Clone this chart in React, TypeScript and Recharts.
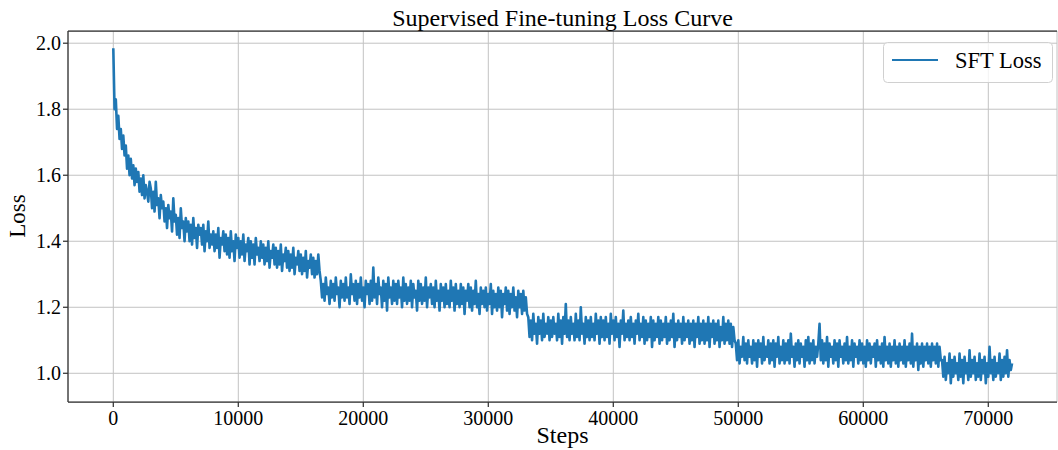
import { CartesianGrid, Legend, Line, LineChart, ReferenceLine, XAxis, YAxis } from "recharts";

// logged every 100 steps, one list per epoch
const STEP = 100;
const EPOCH_STARTS = [0, 16600, 33200, 49800, 66300];

const EPOCH1 = [
  1.985, 1.8, 1.83, 1.74, 1.78, 1.71, 1.74, 1.68, 1.72, 1.66,
  1.69, 1.62, 1.66, 1.6, 1.65, 1.59, 1.63, 1.57, 1.62, 1.58,
  1.61, 1.55, 1.59, 1.54, 1.6, 1.53, 1.57, 1.55, 1.52, 1.58,
  1.56, 1.5, 1.55, 1.49, 1.58, 1.51, 1.53, 1.47, 1.54, 1.5,
  1.52, 1.46, 1.5, 1.44, 1.51, 1.47, 1.49, 1.43, 1.53, 1.46,
  1.48, 1.42, 1.47, 1.41, 1.5, 1.44, 1.46, 1.4, 1.47, 1.43,
  1.46, 1.4, 1.45, 1.39, 1.47, 1.41, 1.44, 1.38, 1.45, 1.42,
  1.44, 1.39, 1.45, 1.37, 1.43, 1.4, 1.46, 1.38, 1.42, 1.39,
  1.43, 1.37, 1.42, 1.38, 1.44, 1.35, 1.41, 1.39, 1.43, 1.37,
  1.42, 1.36, 1.41, 1.35, 1.43, 1.37, 1.4, 1.34, 1.42, 1.38,
  1.41, 1.35, 1.4, 1.36, 1.42, 1.34, 1.39, 1.37, 1.41, 1.33,
  1.4, 1.35, 1.39, 1.33, 1.41, 1.36, 1.38, 1.34, 1.4, 1.35,
  1.39, 1.33, 1.38, 1.34, 1.4, 1.32, 1.37, 1.35, 1.39, 1.33,
  1.38, 1.32, 1.37, 1.33, 1.39, 1.31, 1.36, 1.34, 1.38, 1.32,
  1.37, 1.31, 1.36, 1.32, 1.38, 1.3, 1.35, 1.33, 1.37, 1.31,
  1.36, 1.3, 1.35, 1.31, 1.37, 1.29, 1.34, 1.32, 1.36, 1.3,
  1.35, 1.29, 1.34, 1.3, 1.36, 1.31,
];

const EPOCH2 = [
  1.28, 1.23, 1.27, 1.22, 1.29, 1.24, 1.26, 1.21, 1.28, 1.23,
  1.27, 1.22, 1.29, 1.24, 1.26, 1.2, 1.28, 1.23, 1.27, 1.22,
  1.29, 1.23, 1.26, 1.21, 1.3, 1.24, 1.27, 1.22, 1.28, 1.21,
  1.27, 1.23, 1.29, 1.22, 1.26, 1.2, 1.28, 1.24, 1.27, 1.21,
  1.28, 1.22, 1.32, 1.23, 1.27, 1.21, 1.29, 1.24, 1.26, 1.2,
  1.28, 1.22, 1.27, 1.19, 1.29, 1.23, 1.26, 1.21, 1.28, 1.22,
  1.27, 1.21, 1.28, 1.23, 1.26, 1.2, 1.29, 1.22, 1.27, 1.21,
  1.26, 1.22, 1.28, 1.2, 1.27, 1.23, 1.25, 1.19, 1.28, 1.22,
  1.27, 1.21, 1.26, 1.22, 1.29, 1.2, 1.26, 1.23, 1.27, 1.21,
  1.26, 1.2, 1.28, 1.22, 1.25, 1.19, 1.27, 1.22, 1.26, 1.2,
  1.27, 1.21, 1.25, 1.2, 1.28, 1.22, 1.26, 1.19, 1.27, 1.21,
  1.25, 1.2, 1.27, 1.21, 1.26, 1.18, 1.25, 1.22, 1.27, 1.2,
  1.26, 1.19, 1.25, 1.21, 1.28, 1.2, 1.24, 1.18, 1.26, 1.21,
  1.25, 1.2, 1.26, 1.19, 1.24, 1.21, 1.27, 1.18, 1.25, 1.2,
  1.24, 1.19, 1.26, 1.2, 1.25, 1.17, 1.24, 1.21, 1.26, 1.19,
  1.25, 1.18, 1.24, 1.2, 1.26, 1.19, 1.23, 1.17, 1.25, 1.2,
  1.24, 1.18, 1.25, 1.19, 1.23, 1.18,
];

const EPOCH3 = [
  1.17, 1.11, 1.16, 1.1, 1.18, 1.12, 1.15, 1.09, 1.17, 1.12,
  1.16, 1.1, 1.18, 1.11, 1.15, 1.12, 1.17, 1.1, 1.16, 1.11,
  1.17, 1.12, 1.15, 1.1, 1.18, 1.11, 1.16, 1.09, 1.17, 1.12,
  1.21, 1.11, 1.16, 1.1, 1.17, 1.12, 1.15, 1.1, 1.18, 1.11,
  1.16, 1.1, 1.2, 1.12, 1.15, 1.09, 1.17, 1.11, 1.16, 1.1,
  1.17, 1.11, 1.15, 1.1, 1.18, 1.12, 1.16, 1.09, 1.17, 1.11,
  1.16, 1.1, 1.17, 1.11, 1.15, 1.09, 1.18, 1.12, 1.16, 1.1,
  1.17, 1.11, 1.15, 1.08, 1.16, 1.12, 1.19, 1.1, 1.15, 1.11,
  1.16, 1.1, 1.17, 1.11, 1.15, 1.09, 1.16, 1.12, 1.18, 1.1,
  1.15, 1.11, 1.17, 1.09, 1.16, 1.1, 1.15, 1.11, 1.17, 1.08,
  1.16, 1.1, 1.15, 1.11, 1.17, 1.09, 1.16, 1.1, 1.15, 1.11,
  1.17, 1.09, 1.15, 1.1, 1.16, 1.11, 1.18, 1.08, 1.15, 1.1,
  1.16, 1.11, 1.15, 1.09, 1.17, 1.1, 1.15, 1.11, 1.16, 1.09,
  1.15, 1.1, 1.16, 1.08, 1.15, 1.11, 1.17, 1.09, 1.15, 1.1,
  1.16, 1.09, 1.15, 1.1, 1.17, 1.08, 1.15, 1.11, 1.16, 1.09,
  1.15, 1.1, 1.16, 1.08, 1.14, 1.1, 1.17, 1.09, 1.15, 1.1,
  1.16, 1.09, 1.15, 1.08, 1.14, 1.1,
];

const EPOCH4 = [
  1.09, 1.04, 1.1, 1.03, 1.08, 1.05, 1.11, 1.04, 1.09, 1.03,
  1.1, 1.05, 1.08, 1.03, 1.1, 1.04, 1.09, 1.02, 1.1, 1.05,
  1.09, 1.03, 1.11, 1.04, 1.08, 1.05, 1.1, 1.03, 1.09, 1.04,
  1.1, 1.02, 1.09, 1.05, 1.11, 1.03, 1.08, 1.04, 1.1, 1.03,
  1.09, 1.04, 1.1, 1.03, 1.12, 1.05, 1.08, 1.02, 1.09, 1.04,
  1.1, 1.03, 1.09, 1.05, 1.08, 1.02, 1.1, 1.04, 1.11, 1.03,
  1.09, 1.04, 1.1, 1.03, 1.08, 1.05, 1.09, 1.15, 1.04, 1.1,
  1.03, 1.09, 1.04, 1.11, 1.02, 1.09, 1.05, 1.08, 1.03, 1.1,
  1.04, 1.09, 1.02, 1.1, 1.05, 1.08, 1.03, 1.09, 1.04, 1.11,
  1.03, 1.08, 1.04, 1.1, 1.02, 1.09, 1.05, 1.08, 1.03, 1.1,
  1.04, 1.09, 1.03, 1.08, 1.02, 1.1, 1.04, 1.09, 1.03, 1.08,
  1.05, 1.09, 1.02, 1.1, 1.04, 1.08, 1.03, 1.09, 1.02, 1.11,
  1.04, 1.08, 1.03, 1.09, 1.02, 1.08, 1.04, 1.1, 1.03, 1.08,
  1.02, 1.09, 1.04, 1.08, 1.03, 1.1, 1.02, 1.08, 1.04, 1.09,
  1.03, 1.12, 1.02, 1.08, 1.04, 1.09, 1.01, 1.08, 1.03, 1.09,
  1.02, 1.08, 1.04, 1.09, 1.03, 1.08, 1.02, 1.09, 1.04, 1.08,
  1.03, 1.09, 1.02, 1.08, 1.04,
];

const EPOCH5 = [
  1.04, 0.99, 1.05, 0.98, 1.03, 1.0, 1.06, 0.97, 1.04, 0.99,
  1.05, 1.0, 1.03, 0.98, 1.06, 0.99, 1.04, 0.97, 1.05, 1.0,
  1.03, 0.98, 1.07, 0.99, 1.04, 1.0, 1.05, 0.98, 1.03, 0.99,
  1.06, 0.98, 1.04, 1.0, 1.05, 0.97, 1.03, 0.99, 1.08, 1.0,
  1.04, 0.98, 1.05, 0.99, 1.03, 1.0, 1.06, 0.98, 1.04, 0.99,
  1.05, 1.0, 1.07, 0.99, 1.04, 1.01, 1.03,
];

const EPOCHS = [EPOCH1, EPOCH2, EPOCH3, EPOCH4, EPOCH5];

const X_TICKS = [0, 10000, 20000, 30000, 40000, 50000, 60000, 70000];
const Y_TICKS = [1.0, 1.2, 1.4, 1.6, 1.8, 2.0];
const X_DOMAIN: [number, number] = [-3624, 75496];
const Y_DOMAIN: [number, number] = [0.913, 2.037];

const data = EPOCHS.flatMap((vals, e) =>
  vals.map((loss, i) => ({ step: EPOCH_STARTS[e] + i * STEP, loss }))
);

const FONT = "'Liberation Serif', 'DejaVu Serif', serif";
const BLUE = "#1f77b4";
const SPINE = "#333333";

function LegendBox() {
  return (
    <svg width={170} height={41} style={{ display: "block" }}>
      <rect x={0.5} y={0.5} width={169} height={40} rx={4} fill="#fff" fillOpacity={0.8} stroke="#d0d0d0" />
      <line x1={9} y1={18} x2={55} y2={18} stroke={BLUE} strokeWidth={2} />
      <text x={72} y={26} fontFamily={FONT} fontSize={22.5} fill="#000">
        SFT Loss
      </text>
    </svg>
  );
}

export default function App() {
  return (
    <div style={{ position: "absolute", left: 0, top: 0, width: 1058, height: 450, background: "#fff" }}>
      <LineChart width={1058} height={450} data={data} margin={{ top: 31, right: 1, bottom: 0, left: 0 }}>
        <CartesianGrid stroke="#c2c2c2" strokeWidth={1} />
        <XAxis
          dataKey="step"
          type="number"
          domain={X_DOMAIN}
          ticks={X_TICKS}
          height={48}
          tickSize={5}
          tickMargin={4}
          stroke={SPINE}
          strokeWidth={1.25}
          tick={{ fill: "#000", fontFamily: FONT, fontSize: 20 }}
        />
        <YAxis
          type="number"
          domain={Y_DOMAIN}
          ticks={Y_TICKS}
          width={68}
          tickSize={5}
          tickMargin={2}
          stroke={SPINE}
          strokeWidth={1.25}
          tickFormatter={(v: number) => v.toFixed(1)}
          tick={{ fill: "#000", fontFamily: FONT, fontSize: 20 }}
        />
        <ReferenceLine y={Y_DOMAIN[1]} stroke={SPINE} strokeWidth={1.25} />
        <Line
          type="linear"
          dataKey="loss"
          name="SFT Loss"
          stroke={BLUE}
          strokeWidth={2.6}
          strokeLinejoin="round"
          dot={false}
          isAnimationActive={false}
        />
        <Legend
          layout="vertical"
          align="center"
          verticalAlign="middle"
          wrapperStyle={{ top: 42, left: 883, width: 170, height: 41 }}
          content={() => <LegendBox />}
        />
      </LineChart>
      <svg width={1058} height={450} style={{ position: "absolute", left: 0, top: 0, pointerEvents: "none" }}>
        <text x={562.5} y={26} textAnchor="middle" fontFamily={FONT} fontSize={24} fill="#000">
          Supervised Fine-tuning Loss Curve
        </text>
        <text x={562.5} y={443} textAnchor="middle" fontFamily={FONT} fontSize={24} fill="#000">
          Steps
        </text>
        <text
          x={0}
          y={0}
          transform="translate(25 216) rotate(-90)"
          textAnchor="middle"
          fontFamily={FONT}
          fontSize={23}
          fill="#000"
        >
          Loss
        </text>
      </svg>
    </div>
  );
}
